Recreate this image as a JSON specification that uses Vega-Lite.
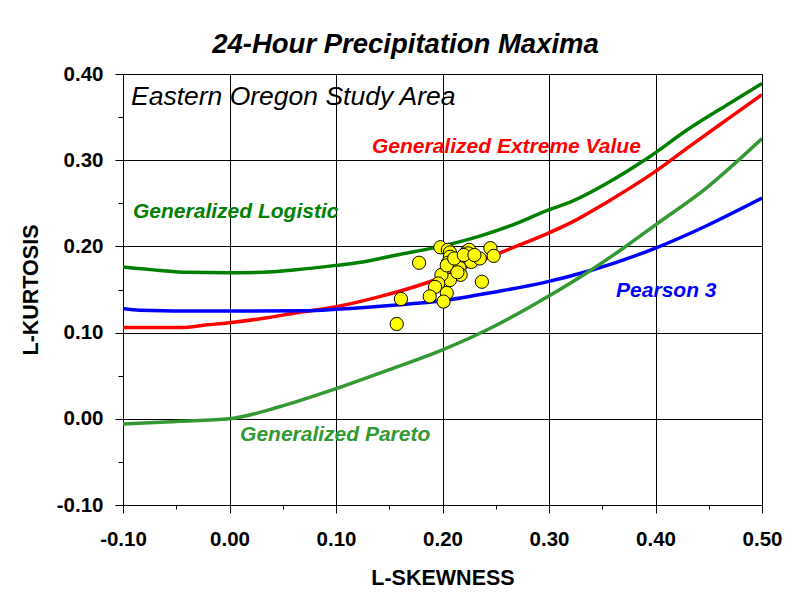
{
  "$schema": "https://vega.github.io/schema/vega-lite/v6.json",
  "autosize": "none",
  "width": 639,
  "height": 431,
  "padding": {"left": 123, "top": 74, "right": 30, "bottom": 92},
  "background": "white",
  "title": {
    "text": "24-Hour Precipitation Maxima",
    "font": "Liberation Sans",
    "fontSize": 27.5,
    "fontWeight": "bold",
    "fontStyle": "italic",
    "color": "black",
    "anchor": "middle",
    "dx": -37,
    "offset": 6
  },
  "config": {
    "view": {"stroke": "black", "strokeWidth": 1},
    "axis": {
      "domainColor": "black",
      "tickColor": "black",
      "gridColor": "black",
      "gridWidth": 1,
      "labelFont": "Liberation Sans",
      "labelFontWeight": "bold",
      "labelFontSize": 20.5,
      "labelColor": "black",
      "titleFont": "Liberation Sans",
      "titleFontWeight": "bold",
      "titleFontSize": 21.5,
      "titleColor": "black"
    }
  },
  "datasets": {
    "curves": [
      {"curve": "Generalized Logistic", "skew": -0.10, "kurt": 0.176},
      {"curve": "Generalized Logistic", "skew": -0.065, "kurt": 0.172},
      {"curve": "Generalized Logistic", "skew": -0.04, "kurt": 0.170},
      {"curve": "Generalized Logistic", "skew": 0.0, "kurt": 0.1695},
      {"curve": "Generalized Logistic", "skew": 0.032, "kurt": 0.170},
      {"curve": "Generalized Logistic", "skew": 0.06, "kurt": 0.1726},
      {"curve": "Generalized Logistic", "skew": 0.10, "kurt": 0.178},
      {"curve": "Generalized Logistic", "skew": 0.125, "kurt": 0.182},
      {"curve": "Generalized Logistic", "skew": 0.157, "kurt": 0.190},
      {"curve": "Generalized Logistic", "skew": 0.198, "kurt": 0.200},
      {"curve": "Generalized Logistic", "skew": 0.235, "kurt": 0.212},
      {"curve": "Generalized Logistic", "skew": 0.266, "kurt": 0.225},
      {"curve": "Generalized Logistic", "skew": 0.295, "kurt": 0.240},
      {"curve": "Generalized Logistic", "skew": 0.323, "kurt": 0.253},
      {"curve": "Generalized Logistic", "skew": 0.354, "kurt": 0.273},
      {"curve": "Generalized Logistic", "skew": 0.392, "kurt": 0.302},
      {"curve": "Generalized Logistic", "skew": 0.432, "kurt": 0.337},
      {"curve": "Generalized Logistic", "skew": 0.467, "kurt": 0.364},
      {"curve": "Generalized Logistic", "skew": 0.50, "kurt": 0.389},
      {"curve": "Generalized Extreme Value", "skew": -0.10, "kurt": 0.106},
      {"curve": "Generalized Extreme Value", "skew": -0.046, "kurt": 0.106},
      {"curve": "Generalized Extreme Value", "skew": -0.021, "kurt": 0.109},
      {"curve": "Generalized Extreme Value", "skew": 0.0, "kurt": 0.1115},
      {"curve": "Generalized Extreme Value", "skew": 0.032, "kurt": 0.1166},
      {"curve": "Generalized Extreme Value", "skew": 0.063, "kurt": 0.123},
      {"curve": "Generalized Extreme Value", "skew": 0.10, "kurt": 0.130},
      {"curve": "Generalized Extreme Value", "skew": 0.141, "kurt": 0.1417},
      {"curve": "Generalized Extreme Value", "skew": 0.188, "kurt": 0.159},
      {"curve": "Generalized Extreme Value", "skew": 0.226, "kurt": 0.178},
      {"curve": "Generalized Extreme Value", "skew": 0.257, "kurt": 0.194},
      {"curve": "Generalized Extreme Value", "skew": 0.295, "kurt": 0.213},
      {"curve": "Generalized Extreme Value", "skew": 0.323, "kurt": 0.229},
      {"curve": "Generalized Extreme Value", "skew": 0.354, "kurt": 0.251},
      {"curve": "Generalized Extreme Value", "skew": 0.40, "kurt": 0.287},
      {"curve": "Generalized Extreme Value", "skew": 0.432, "kurt": 0.316},
      {"curve": "Generalized Extreme Value", "skew": 0.467, "kurt": 0.347},
      {"curve": "Generalized Extreme Value", "skew": 0.50, "kurt": 0.376},
      {"curve": "Pearson 3", "skew": -0.10, "kurt": 0.128},
      {"curve": "Pearson 3", "skew": -0.084, "kurt": 0.126},
      {"curve": "Pearson 3", "skew": -0.021, "kurt": 0.125},
      {"curve": "Pearson 3", "skew": 0.022, "kurt": 0.125},
      {"curve": "Pearson 3", "skew": 0.072, "kurt": 0.1254},
      {"curve": "Pearson 3", "skew": 0.10, "kurt": 0.127},
      {"curve": "Pearson 3", "skew": 0.157, "kurt": 0.132},
      {"curve": "Pearson 3", "skew": 0.20, "kurt": 0.137},
      {"curve": "Pearson 3", "skew": 0.251, "kurt": 0.1475},
      {"curve": "Pearson 3", "skew": 0.295, "kurt": 0.158},
      {"curve": "Pearson 3", "skew": 0.339, "kurt": 0.172},
      {"curve": "Pearson 3", "skew": 0.40, "kurt": 0.198},
      {"curve": "Pearson 3", "skew": 0.448, "kurt": 0.224},
      {"curve": "Pearson 3", "skew": 0.50, "kurt": 0.256},
      {"curve": "Generalized Pareto", "skew": -0.10, "kurt": -0.006},
      {"curve": "Generalized Pareto", "skew": -0.05, "kurt": -0.003},
      {"curve": "Generalized Pareto", "skew": 0.0, "kurt": 0.0},
      {"curve": "Generalized Pareto", "skew": 0.047, "kurt": 0.014},
      {"curve": "Generalized Pareto", "skew": 0.10, "kurt": 0.035},
      {"curve": "Generalized Pareto", "skew": 0.15, "kurt": 0.057},
      {"curve": "Generalized Pareto", "skew": 0.20, "kurt": 0.080},
      {"curve": "Generalized Pareto", "skew": 0.2415, "kurt": 0.103},
      {"curve": "Generalized Pareto", "skew": 0.295, "kurt": 0.139},
      {"curve": "Generalized Pareto", "skew": 0.340, "kurt": 0.173},
      {"curve": "Generalized Pareto", "skew": 0.371, "kurt": 0.199},
      {"curve": "Generalized Pareto", "skew": 0.40, "kurt": 0.225},
      {"curve": "Generalized Pareto", "skew": 0.448, "kurt": 0.268},
      {"curve": "Generalized Pareto", "skew": 0.50, "kurt": 0.325}
    ],
    "sites": [
      {"skew": 0.198, "kurt": 0.199},
      {"skew": 0.178, "kurt": 0.181},
      {"skew": 0.205, "kurt": 0.196},
      {"skew": 0.207, "kurt": 0.193},
      {"skew": 0.207, "kurt": 0.188},
      {"skew": 0.213, "kurt": 0.184},
      {"skew": 0.205, "kurt": 0.181},
      {"skew": 0.223, "kurt": 0.194},
      {"skew": 0.225, "kurt": 0.196},
      {"skew": 0.224, "kurt": 0.192},
      {"skew": 0.227, "kurt": 0.182},
      {"skew": 0.235, "kurt": 0.186},
      {"skew": 0.245, "kurt": 0.198},
      {"skew": 0.248, "kurt": 0.189},
      {"skew": 0.216, "kurt": 0.175},
      {"skew": 0.217, "kurt": 0.167},
      {"skew": 0.207, "kurt": 0.161},
      {"skew": 0.199, "kurt": 0.167},
      {"skew": 0.196, "kurt": 0.157},
      {"skew": 0.193, "kurt": 0.153},
      {"skew": 0.204, "kurt": 0.146},
      {"skew": 0.201, "kurt": 0.136},
      {"skew": 0.188, "kurt": 0.142},
      {"skew": 0.161, "kurt": 0.139},
      {"skew": 0.157, "kurt": 0.110},
      {"skew": 0.237, "kurt": 0.159},
      {"skew": 0.204, "kurt": 0.178},
      {"skew": 0.211, "kurt": 0.186},
      {"skew": 0.220, "kurt": 0.190},
      {"skew": 0.230, "kurt": 0.190},
      {"skew": 0.214, "kurt": 0.170}
    ],
    "curveLabels": [
      {"curve": "Generalized Extreme Value", "skew": 0.1338, "kurt": 0.315},
      {"curve": "Generalized Logistic", "skew": -0.0906, "kurt": 0.240},
      {"curve": "Pearson 3", "skew": 0.363, "kurt": 0.148},
      {"curve": "Generalized Pareto", "skew": 0.0099, "kurt": -0.019}
    ],
    "areaLabel": [
      {"label": "Eastern Oregon Study Area", "skew": -0.0925, "kurt": 0.373}
    ]
  },
  "encoding": {
    "x": {
      "field": "skew",
      "type": "quantitative",
      "scale": {"domain": [-0.1, 0.5], "nice": false, "zero": false},
      "axis": {
        "title": "L-SKEWNESS",
        "values": [-0.1, -0.05, 0, 0.05, 0.1, 0.15, 0.2, 0.25, 0.3, 0.35, 0.4, 0.45, 0.5],
        "labelExpr": "round(datum.value*100) % 10 == 0 ? replace(format(datum.value, '.2f'), '\u2212', '-') : ''",
        "tickSize": {"condition": {"test": "round(datum.value*100) % 10 != 0", "value": 4}, "value": 8},
        "gridOpacity": {"condition": {"test": "round(datum.value*100) % 10 != 0", "value": 0}, "value": 1},
        "labelPadding": 16,
        "titlePadding": 18,
        "labelFlush": false,
        "labelOverlap": false
      }
    },
    "y": {
      "field": "kurt",
      "type": "quantitative",
      "scale": {"domain": [-0.1, 0.4], "nice": false, "zero": false},
      "axis": {
        "title": "L-KURTOSIS",
        "values": [-0.1, -0.05, 0, 0.05, 0.1, 0.15, 0.2, 0.25, 0.3, 0.35, 0.4],
        "labelExpr": "round(datum.value*100) % 10 == 0 ? replace(format(datum.value, '.2f'), '\u2212', '-') : ''",
        "tickSize": {"condition": {"test": "round(datum.value*100) % 10 != 0", "value": 5}, "value": 8},
        "gridOpacity": {"condition": {"test": "round(datum.value*100) % 10 != 0", "value": 0}, "value": 1},
        "labelPadding": 12,
        "titlePadding": 14,
        "labelFlush": false,
        "labelOverlap": false
      }
    }
  },
  "layer": [
    {
      "data": {"name": "curves"},
      "mark": {"type": "line", "strokeWidth": 3.5, "clip": true, "interpolate": "monotone"},
      "encoding": {
        "color": {
          "field": "curve",
          "type": "nominal",
          "scale": {
            "domain": ["Generalized Logistic", "Generalized Extreme Value", "Pearson 3", "Generalized Pareto"],
            "range": ["#008000", "#FF0000", "#0000FF", "#339933"]
          },
          "legend": null
        },
        "order": {"field": "skew", "type": "quantitative"}
      }
    },
    {
      "data": {"name": "sites"},
      "mark": {"type": "circle", "size": 175, "fill": "#FFFF00", "stroke": "black", "strokeWidth": 1, "opacity": 1}
    },
    {
      "data": {"name": "curveLabels"},
      "mark": {"type": "text", "align": "left", "baseline": "middle", "font": "Liberation Sans", "fontSize": 21, "fontWeight": "bold", "fontStyle": "italic"},
      "encoding": {
        "text": {"field": "curve"},
        "color": {"field": "curve", "type": "nominal", "legend": null}
      }
    },
    {
      "data": {"name": "areaLabel"},
      "mark": {"type": "text", "align": "left", "baseline": "middle", "font": "Liberation Sans", "fontSize": 26.5, "fontStyle": "italic", "color": "black"},
      "encoding": {
        "text": {"field": "label"}
      }
    }
  ]
}
